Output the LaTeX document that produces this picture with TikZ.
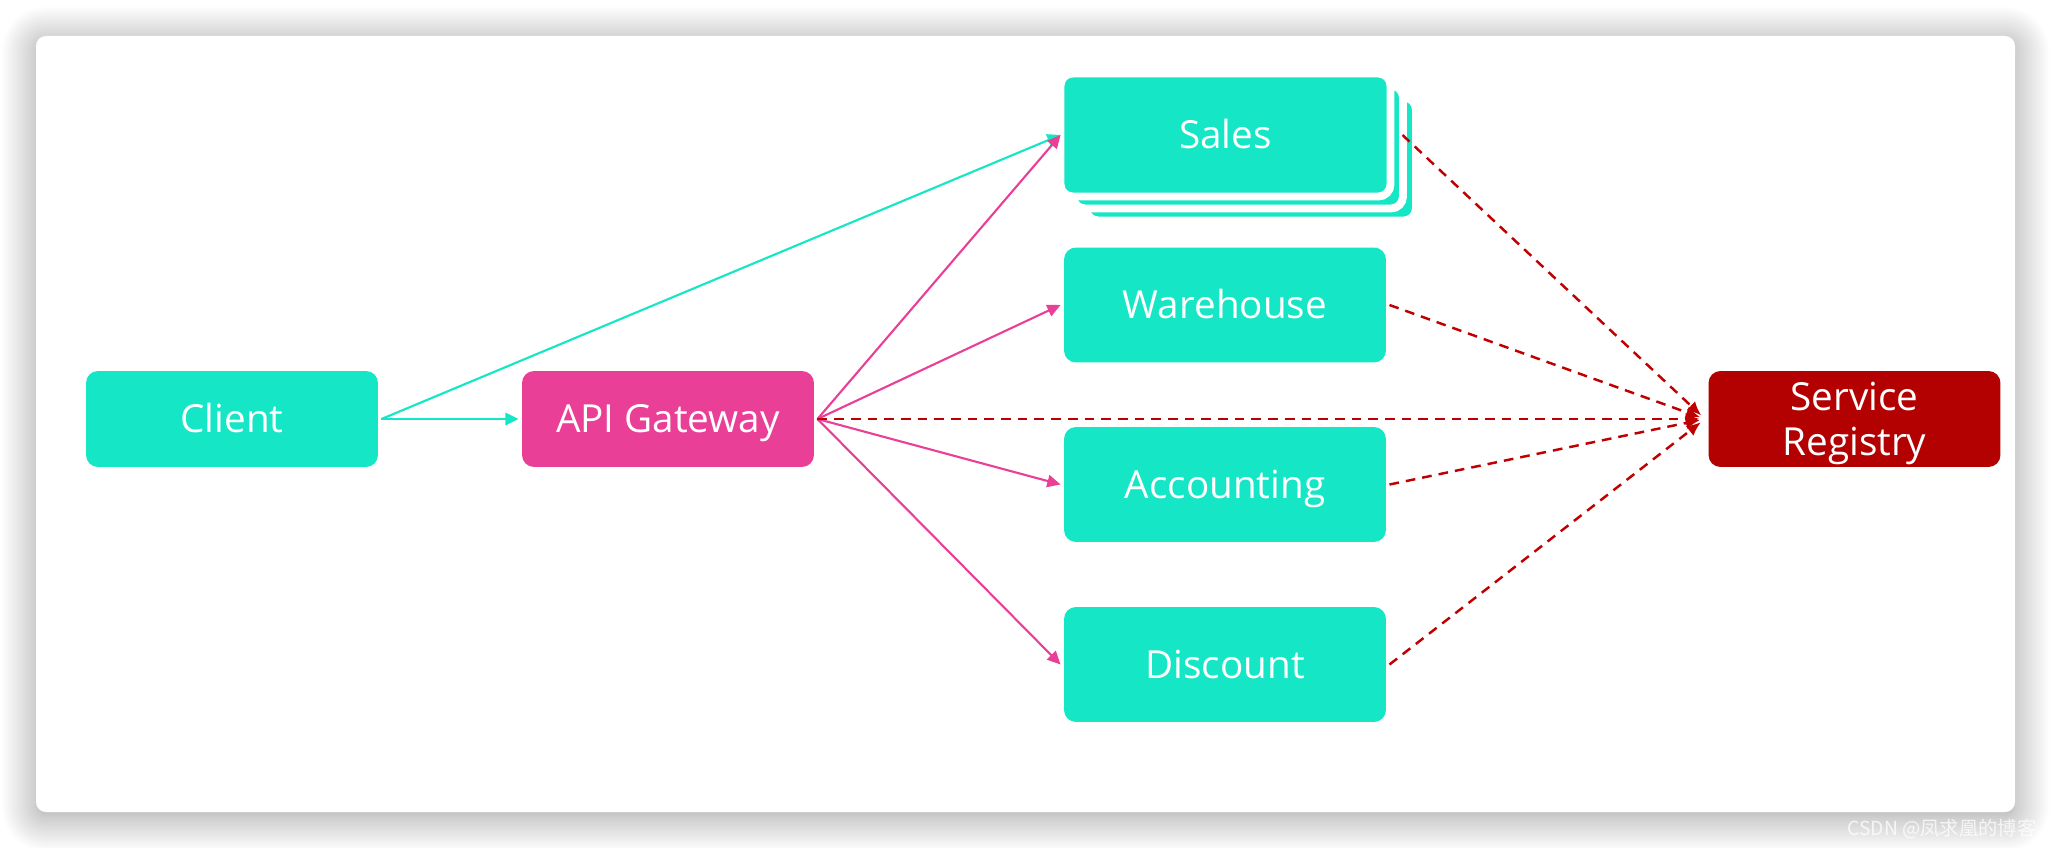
\documentclass[tikz,border=0pt]{standalone}
\usepackage{fontspec}
\setmainfont{Open Sans}
\newfontfamily\cjkfont{Noto Sans CJK SC}
\usetikzlibrary{arrows.meta, positioning, calc, shadows.blur}

\definecolor{svcteal}{RGB}{20,230,198}
\definecolor{gwpink}{RGB}{234,63,150}
\definecolor{regred}{RGB}{179,0,0}
\definecolor{linkred}{RGB}{192,0,0}

\begin{document}
\begin{tikzpicture}[x=0.02cm, y=-0.02cm, % 1单位=1像素,y轴向下
  roundbox/.style={rounded corners=0.24cm, text=white, align=center, inner sep=0pt, outer sep=2pt,
                   font=\fontsize{22}{25.5}\selectfont, text height=15.7pt, text depth=0pt}, % 大写字母居中
  smallbox/.style={roundbox, minimum width=5.84cm, minimum height=1.92cm},
  svcbox/.style={roundbox, fill=svcteal, minimum width=6.44cm, minimum height=2.3cm},
  stackbox/.style={svcbox, draw=white, line width=4.5pt, outer sep=0pt,
                   minimum width=6.6cm, minimum height=2.46cm}, % 白边留出层间空隙
  tealarrow/.style={svcteal, line width=1.2pt, -{Triangle[length=7.5pt, width=7pt]}},
  pinkarrow/.style={gwpink, line width=1.2pt, -{Triangle[length=7.5pt, width=7pt]}},
  reglink/.style={linkred, line width=1.4pt, dash pattern=on 5.5pt off 4pt,
                  -{Latex[length=8pt, width=7pt]}, shorten >=3pt}]
\useasboundingbox (0,0) rectangle (2052,848);
% 带阴影的白色卡片
\fill[white, rounded corners=0.2cm,
      blur shadow={shadow xshift=0pt, shadow yshift=-0.1cm, shadow blur radius=0.7cm,
                   shadow opacity=40, shadow blur steps=20}]
  (36,36) rectangle (2015,812);

% 节点
\node[smallbox, fill=svcteal] (client) at (232,419) {Client};
\node[smallbox, fill=gwpink] (gateway) at (668,419) {API Gateway};
\node[stackbox] (sales3) at (1251,159) {};   % 叠放的第三层
\node[stackbox] (sales2) at (1238,147) {};   % 叠放的第二层
\node[stackbox] (sales) at (1225.5,135) {Sales};
\node[svcbox] (warehouse) at (1225,305) {Warehouse};
\node[svcbox] (accounting) at (1225,484.5) {Accounting};
\node[svcbox] (discount) at (1225,664.5) {Discount};
\node[smallbox, fill=regred, text height=41.2pt] (registry) at (1854.5,419) {Service\\Registry}; % 两行
\coordinate (salesout) at ($(sales.east)+(12,0)$);

% 请求路径
\draw[tealarrow] (client.east) -- (sales.west);
\draw[tealarrow] (client.east) -- (gateway.west);
\draw[pinkarrow] (gateway.east) -- (sales.west);
\draw[pinkarrow] (gateway.east) -- (warehouse.west);
\draw[pinkarrow] (gateway.east) -- (accounting.west);
\draw[pinkarrow] (gateway.east) -- (discount.west);

% 注册中心虚线
\draw[reglink] (salesout) -- (registry.west);
\draw[reglink] (warehouse.east) -- (registry.west);
\draw[reglink] (gateway.east) -- (registry.west);
\draw[reglink] (accounting.east) -- (registry.west);
\draw[reglink] (discount.east) -- (registry.west);

% 水印
\node[anchor=west, text=white, opacity=0.75, inner sep=0pt,
      font=\cjkfont\fontsize{11}{11}\selectfont] (mark) at (1847,829) {CSDN @凤求凰的博客};
\end{tikzpicture}
\end{document}
